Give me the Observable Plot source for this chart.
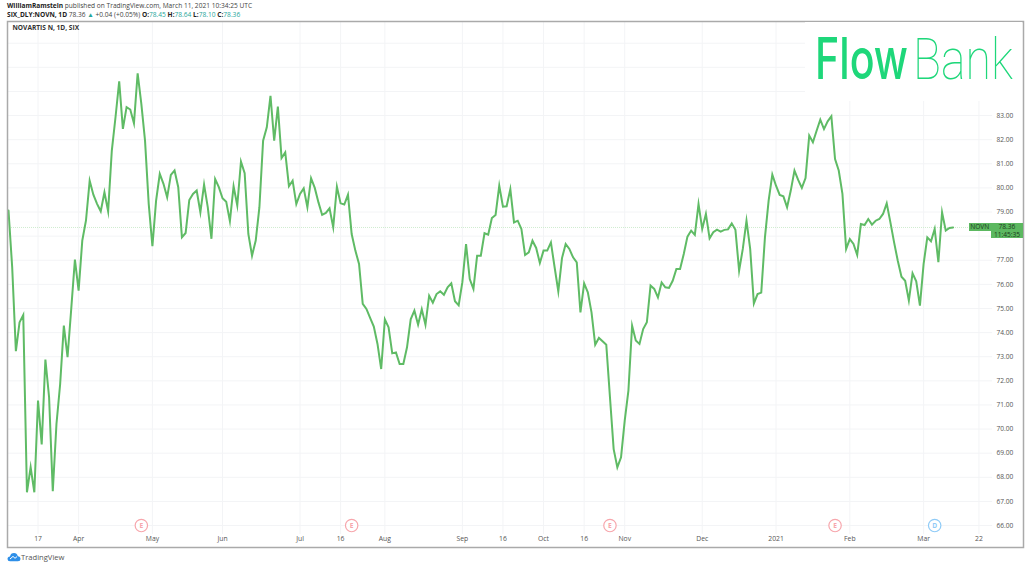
<!DOCTYPE html>
<html>
<head>
<meta charset="utf-8">
<script src="https://cdn.jsdelivr.net/npm/d3@7"></script>
<script src="https://cdn.jsdelivr.net/npm/@observablehq/plot@0.6"></script>
<style>
html,body{margin:0;padding:0;background:#fff;width:1036px;height:570px;overflow:hidden}
body{position:relative;font-family:"Open Sans",sans-serif;color:#333}
#head{position:absolute;left:7px;top:0;font-size:6.6px;line-height:9px;padding-top:1px;white-space:nowrap;color:#444}
#head b{color:#222}
#head .v{color:#26a69a}
#chart{position:absolute;left:0;top:20px}
#chart svg{display:block}
#logoBg{position:absolute;left:805px;top:22px;width:217px;height:79px;background:#fff}
#logo{position:absolute;left:805px;top:22px}
#tag1,#tag2{position:absolute;background:#5cb860;color:#1d3a1f;font-size:6.6px;line-height:7.5px;white-space:nowrap}
#tag1{left:969px;top:223px;width:21.5px;height:8px;text-align:center}
#tag2{left:991px;top:223px;width:32px;height:15px;text-align:center}
#foot{position:absolute;left:21px;top:552px;font-size:7.6px;line-height:10px;color:#555}
#cloud{position:absolute;left:7px;top:552px}
</style>
</head>
<body>
<div id="head">
<div><b>WilliamRamstein</b> published on TradingView.com, March 11, 2021 10:34:25 UTC</div>
<div><b>SIX_DLY:NOVN, 1D</b> 78.36 <span class="v">▲</span> +0.04 (+0.05%) <b>O:</b><span class="v">78.45</span> <b>H:</b><span class="v">78.64</span> <b>L:</b><span class="v">78.10</span> <b>C:</b><span class="v">78.36</span></div>
</div>
<div id="chart"></div>
<div id="logoBg"></div>
<svg id="logo" width="217" height="79">
<text x="10" y="57" font-family="Inter, Roboto" font-size="57" font-weight="500" fill="#1ed77a" textLength="93" lengthAdjust="spacingAndGlyphs">Flow</text>
<text x="108" y="57" font-family="Roboto, Inter" font-size="57" font-weight="100" fill="#1ed77a" textLength="100" lengthAdjust="spacingAndGlyphs">Bank</text>
</svg>
<div id="tag1">NOVN</div>
<div id="tag2">78.36<br>11:45:35</div>
<svg id="cloud" width="14" height="10" viewBox="0 0 14 10"><path d="M0.5 7 Q0.5 4.4 3 4.4 Q3.6 1 7 1 Q10 1 10.8 4.2 Q13.5 4.4 13.5 7 Q13.5 9.2 11 9.2 L3 9.2 Q0.5 9.2 0.5 7Z" fill="#2e8fe8"/><path d="M3 7 L6 4.4 L8 6.3 L10 4.6" stroke="#fff" stroke-width="1" fill="none"/></svg>
<div id="foot">TradingView</div>
<script>
const prices = [
79.06,76.71,73.23,74.43,74.73,67.38,68.42,67.38,71.18,69.36,72.88,71.32,67.42,70.21,71.87,74.29,72.98,74.98,77.03,75.74,
77.82,78.65,80.30,79.72,79.34,79.03,79.82,79.03,81.55,82.93,84.42,82.45,83.35,83.25,82.68,84.75,83.48,81.96,79.34,77.58,
79.47,80.58,80.17,79.61,80.54,80.72,80.03,77.95,78.13,79.50,79.75,79.89,78.99,80.14,79.20,77.89,80.37,80.03,79.57,79.43,
78.62,80.07,79.27,81.09,80.61,78.09,77.19,77.82,
79.20,81.96,82.51,83.82,81.96,83.37,81.24,81.47,80.07,80.30,79.33,79.75,79.98,79.20,80.40,80.00,79.40,78.88,78.96,79.15,
78.37,80.05,79.36,79.31,79.72,78.09,77.40,76.85,75.19,74.98,74.61,74.25,73.53,72.49,74.55,74.22,73.14,73.18,72.70,72.70,
73.39,74.55,74.91,74.33,74.97,74.33,75.53,75.24,75.60,75.71,75.57,75.88,76.04,75.30,75.13,76.09,77.67,76.22,75.81,77.19,
77.19,78.12,78.06,78.75,78.88,80.09,79.22,79.24,79.95,
78.57,78.64,78.30,77.22,77.33,77.81,77.51,76.89,77.40,77.40,77.74,76.71,75.71,77.09,77.67,77.47,77.12,76.91,74.84,76.04,
75.67,74.84,73.50,73.78,73.64,73.50,71.32,69.17,68.41,68.83,70.35,71.59,74.29,73.67,73.53,74.15,74.43,75.95,75.81,75.46,
76.08,75.88,75.85,76.15,76.64,76.64,77.26,77.98,78.23,78.05,79.33,78.30,78.92,77.91,78.16,78.27,78.19,78.26,78.28,78.53,
78.26,76.57,77.47,78.64,77.47,75.21,75.60,
75.66,77.95,79.47,80.55,80.09,79.71,79.65,79.20,79.89,80.72,80.33,80.00,80.41,82.17,81.89,82.37,82.83,82.44,82.76,82.97,
81.20,80.72,79.75,77.47,77.88,77.68,77.22,78.50,78.46,78.71,78.48,78.64,78.71,78.92,79.36,78.57,77.74,76.98,76.32,76.15,
75.33,76.46,76.13,75.12,76.85,77.95,77.79,78.30,76.92,78.99,78.23,78.34,78.36
];
const timeTicks = [8,19,39,58,79,90,102,123,134,145,156,167,188,208,228,248,263];
const timeLabels = ["17","Apr","May","Jun","Jul","16","Aug","Sep","16","Oct","16","Nov","Dec","2021","Feb","Mar","22"];
const gridPrices = [66,67,68,69,70,71,72,73,74,75,76,77,78,79,80,81,82,83,84,85,86];
const labelPrices = [66,67,68,69,70,71,72,73,74,75,76,77,78,79,80,81,82,83];
const eventDays = [36,93,163,224,251];
const eventLetters = ["E","E","E","E","D"];
const eventColors = ["#f7a6ac","#f7a6ac","#f7a6ac","#f7a6ac","#8fcbf7"];
const lastPrice = 78.36;
const series = prices.map((p,i)=>({i,p}));
const events = eventDays.map((d,k)=>({d,l:eventLetters[k],c:eventColors[k],y:66}));
const xMin=-0.27, xMax=275.07, yMin=65.09, yMax=86.9, gridRight=266.7, gridBottom=65.63;
const fontF='"Open Sans",sans-serif';
const plot = Plot.plot({
  width:1036, height:528,
  marginLeft:7, marginRight:13, marginTop:1, marginBottom:1,
  style:{background:"#fff",fontFamily:fontF,overflow:"visible"},
  x:{domain:[xMin,xMax]},
  y:{domain:[yMin,yMax]},
  marks:[
    Plot.ruleY(gridPrices,{x1:xMin,x2:gridRight,stroke:"#f3f4f6",strokeWidth:1}),
    Plot.ruleX(timeTicks,{y1:gridBottom,y2:yMax,stroke:"#f3f4f6",strokeWidth:1}),
    Plot.ruleY([lastPrice],{x1:xMin,x2:264,stroke:"#cfeccf",strokeWidth:1,strokeDasharray:"1,1"}),
    Plot.line(series,{x:"i",y:"p",stroke:"#5fbb65",strokeWidth:2,strokeLinejoin:"miter",strokeMiterlimit:8}),
    Plot.axisY(labelPrices,{anchor:"right",tickSize:0,tickPadding:0,dx:-27,tickFormat:d=>d.toFixed(2),fontSize:6.6,fill:"#555",textAnchor:"start",label:null}),
    Plot.axisX(timeTicks,{anchor:"bottom",tickSize:0,tickPadding:0,dy:-11,tickFormat:d=>timeLabels[timeTicks.indexOf(d)],fontSize:6.8,fill:"#555",label:null}),
    Plot.dot(events,{x:"d",y:"y",r:6.2,stroke:"c",fill:"#fff",strokeWidth:1.2}),
    Plot.text(events,{x:"d",y:"y",text:"l",fill:"c",fontSize:6.6,fontWeight:"bold"}),
    Plot.text(["NOVARTIS N, 1D, SIX"],{frameAnchor:"top-left",dx:5,dy:4,fontSize:6.6,fontWeight:"bold",fill:"#333"}),
    Plot.frame({stroke:"#aaa",strokeWidth:1.5})
  ]
});
document.getElementById("chart").append(plot);
</script>
</body>
</html>
